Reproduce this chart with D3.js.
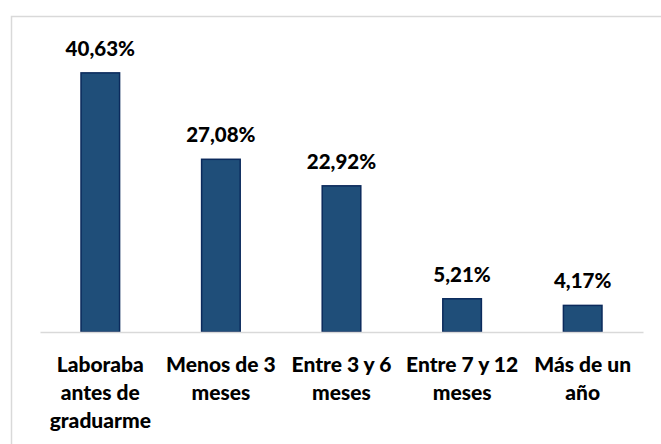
<!DOCTYPE html>
<html>
<head>
<meta charset="utf-8">
<script src="https://cdn.jsdelivr.net/npm/d3@7"></script>
<style>
  body { margin: 0; background: #fff; }
  text { font-family: Lato, "Open Sans", sans-serif; font-weight: 900; fill: #000; }
</style>
</head>
<body>
<div id="chart"></div>
<script>
// data
var categories = ["Laboraba antes de graduarme", "Menos de 3 meses", "Entre 3 y 6 meses", "Entre 7 y 12 meses", "Más de un año"];
var values = [40.63, 27.08, 22.92, 5.21, 4.17];
var valueLabels = ["40,63%", "27,08%", "22,92%", "5,21%", "4,17%"];

var W = 661, H = 444;
var plot = {l: 40, r: 643, t: 45, b: 332};

var svg = d3.select("#chart").append("svg")
	.attr("width", W)
	.attr("height", H);

// chart frame (clipped by the picture on the right and bottom)
svg.append("rect")
	.attr("x", 11.5).attr("y", 16.5)
	.attr("width", 700).attr("height", 500)
	.attr("fill", "none")
	.attr("stroke", "#d9d9d9")
	.attr("stroke-width", 1.5);

var x = d3.scaleBand()
	.domain(categories)
	.range([plot.l, plot.r])
	.paddingInner(0.68)
	.paddingOuter(0.34);

var y = d3.scaleLinear()
	.domain([0, 45])
	.range([plot.b, plot.t]);

var data = categories.map(function(c, i) {
	return {cat: c, val: values[i], label: valueLabels[i]};
});

// bars
svg.selectAll(".bar")
	.data(data)
  .enter().append("rect")
	.attr("class", "bar")
	.attr("x", function(d) { return x(d.cat); })
	.attr("y", function(d) { return y(d.val); })
	.attr("width", x.bandwidth())
	.attr("height", function(d) { return y(0) - y(d.val); })
	.attr("fill", "#1f4e79")
	.attr("stroke", "#0b2a5c")
	.attr("stroke-width", 1.5);

// baseline
var xAxis = d3.axisBottom(x).tickSize(0).tickFormat("");
var gx = svg.append("g")
	.attr("transform", "translate(0," + y(0) + ")")
	.call(xAxis);
gx.select(".domain").attr("stroke", "#d9d9d9").attr("stroke-width", 1.5);

// value labels
svg.selectAll(".val")
	.data(data)
  .enter().append("text")
	.attr("class", "val")
	.attr("x", function(d) { return x(d.cat) + x.bandwidth() / 2; })
	.attr("y", function(d) { return y(d.val) - 17; })
	.attr("text-anchor", "middle")
	.style("font-size", "20.5px")
	.text(function(d) { return d.label; });

// category labels, wrapped to band step
function wrap(str, width, size) {
	var words = str.split(" "), lines = [], cur = "";
	var probe = svg.append("text").style("font-size", size + "px");
	words.forEach(function(w) {
		var t = cur ? cur + " " + w : w;
		probe.text(t);
		if (probe.node().getComputedTextLength() > width && cur) {
			lines.push(cur);
			cur = w;
		} else {
			cur = t;
		}
	});
	lines.push(cur);
	probe.remove();
	return lines;
}

svg.selectAll(".cat")
	.data(data)
  .enter().append("text")
	.attr("class", "cat")
	.attr("text-anchor", "middle")
	.style("font-size", "21px")
	.each(function(d) {
		var t = d3.select(this);
		var cx = x(d.cat) + x.bandwidth() / 2;
		wrap(d.cat, x.step() + 4, 21).forEach(function(line, i) {
			t.append("tspan")
				.attr("x", cx)
				.attr("y", 372 + i * 28)
				.text(line);
		});
	});
</script>
</body>
</html>
